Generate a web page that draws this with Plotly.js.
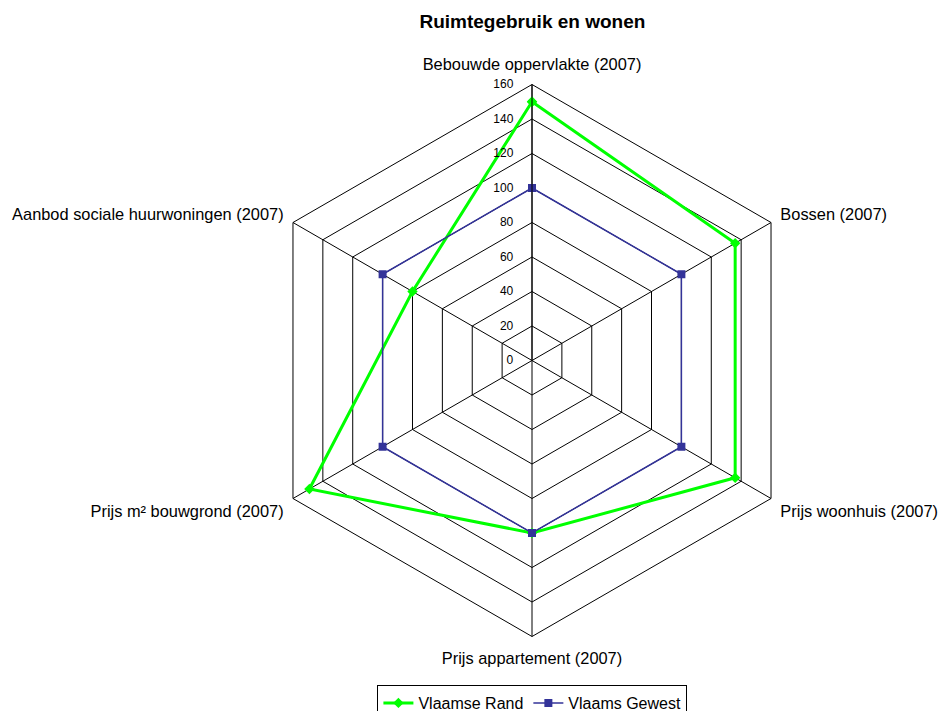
<!DOCTYPE html>
<html>
<head>
<meta charset="utf-8">
<script src="https://cdn.plot.ly/plotly-3.0.1.min.js"></script>
<style>
  html, body { margin: 0; padding: 0; background: #fff; overflow: hidden; }
  #chart { width: 939px; height: 730px; }
</style>
</head>
<body>
<div id="chart"></div>
<script>
// categorieën en waarden (index, Vlaams Gewest = 100)
const categories = [
    'Bebouwde oppervlakte (2007)',
    'Bossen (2007)',
    'Prijs woonhuis (2007)',
    'Prijs appartement (2007)',
    'Prijs m² bouwgrond (2007)',
    'Aanbod sociale huurwoningen (2007)'
];
const vlaamseRand = [150, 136, 136, 100, 149, 80];
const vlaamsGewest = [100, 100, 100, 100, 100, 100];
const radialTicks = [0, 20, 40, 60, 80, 100, 120, 140, 160];

// polygoon sluiten
const closeLoop = arr => arr.concat([arr[0]]);

// het venster is 711 hoog; de legende loopt onderaan net buiten beeld
const W = 939, H = 730;

const traces = [
    {
        type: 'scatterpolar',
        r: closeLoop(vlaamseRand),
        theta: closeLoop(categories),
        name: 'Vlaamse Rand',
        mode: 'lines+markers',
        line: { color: '#00ff00', width: 3 },
        marker: { symbol: 'diamond', size: 8, color: '#00ff00' }
    },
    {
        type: 'scatterpolar',
        r: closeLoop(vlaamsGewest),
        theta: closeLoop(categories),
        name: 'Vlaams Gewest',
        mode: 'lines+markers',
        line: { color: '#333399', width: 1.5 },
        marker: { symbol: 'square', size: 8, color: '#333399' }
    }
];

const layout = {
    width: W,
    height: H,
    margin: { l: 0, r: 0, t: 0, b: 0 },
    paper_bgcolor: '#fff',
    font: { family: 'Liberation Sans, Arial, sans-serif', size: 16, color: '#000' },
    title: {
        text: '<b>Ruimtegebruik en wonen</b>',
        font: { size: 19 },
        x: 0.567, xanchor: 'center',
        y: 1 - 21 / H, yanchor: 'middle'
    },
    showlegend: true,
    legend: {
        orientation: 'h',
        x: 0.567, xanchor: 'center',
        y: 1 - 685 / H, yanchor: 'top',
        bordercolor: '#000', borderwidth: 1,
        font: { size: 16 },
        itemwidth: 30
    },
    polar: {
        domain: { x: [256 / W, 808 / W], y: [1 - 636.5 / H, 1 - 84.5 / H] },
        gridshape: 'linear',
        bgcolor: '#fff',
        radialaxis: {
            range: [0, 160],
            tickvals: radialTicks,
            angle: 90,
            tickangle: 90,
            side: 'counterclockwise',
            showline: true,
            linecolor: '#000',
            linewidth: 1,
            gridcolor: '#000',
            gridwidth: 1,
            ticks: 'outside',
            ticklen: 14,
            tickcolor: 'rgba(0,0,0,0)',
            tickfont: { size: 12 }
        },
        angularaxis: {
            type: 'category',
            categoryarray: categories,
            rotation: 90,
            direction: 'clockwise',
            showline: true,
            linecolor: '#000',
            linewidth: 1,
            gridcolor: '#000',
            gridwidth: 1,
            ticks: 'outside',
            ticklen: 7,
            tickcolor: 'rgba(0,0,0,0)',
            tickfont: { size: 16.4 }
        }
    }
};

Plotly.newPlot('chart', traces, layout, { displayModeBar: false });
</script>
</body>
</html>
